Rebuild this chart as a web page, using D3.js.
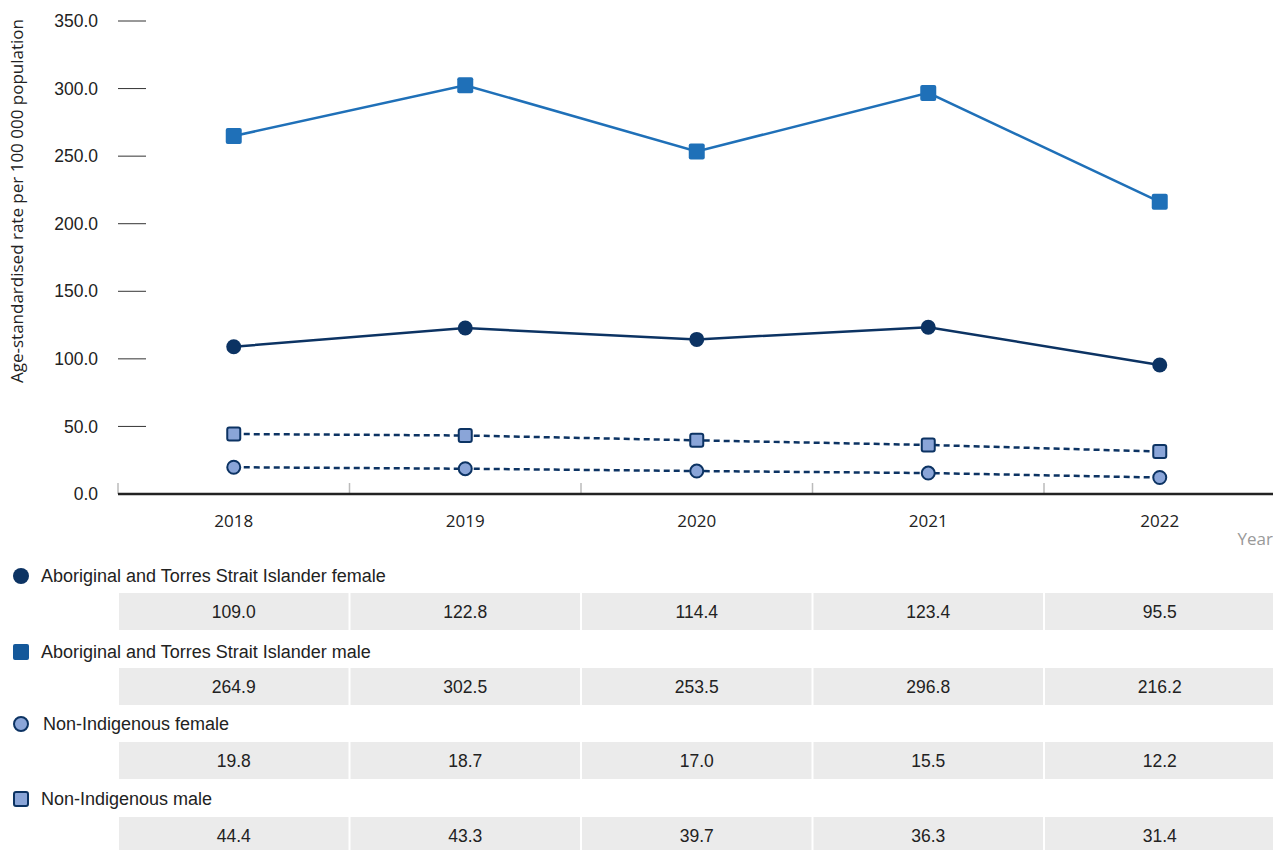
<!DOCTYPE html>
<html>
<head>
<meta charset="utf-8">
<script src="https://cdn.jsdelivr.net/npm/d3@7"></script>
<style>
  body { margin: 0; background: #fff; }
  svg { font-family: "Liberation Sans", Arial, sans-serif; }
</style>
</head>
<body>
<svg width="1273" height="850"></svg>
<script>
const years = ["2018", "2019", "2020", "2021", "2022"];
const seriesNames = [
  "Aboriginal and Torres Strait Islander female",
  "Aboriginal and Torres Strait Islander male",
  "Non-Indigenous female",
  "Non-Indigenous male"
];
const atsiFemale = [109.0, 122.8, 114.4, 123.4, 95.5];
const atsiMale = [264.9, 302.5, 253.5, 296.8, 216.2];
const nonIndFemale = [19.8, 18.7, 17.0, 15.5, 12.2];
const nonIndMale = [44.4, 43.3, 39.7, 36.3, 31.4];
const yTicks = [0, 50, 100, 150, 200, 250, 300, 350];

const svg = d3.select("svg");
const width = +svg.attr("width");

const series = [
  { name: seriesNames[0], values: atsiFemale, shape: "circle", fill: "#0c3363", stroke: "#0c3363", line: "#0c3363", dash: null, legendFill: "#0c3363" },
  { name: seriesNames[1], values: atsiMale, shape: "square", fill: "#1f70b8", stroke: "#1f70b8", line: "#1f70b8", dash: null, legendFill: "#14589a" },
  { name: seriesNames[2], values: nonIndFemale, shape: "circle", fill: "#8aa5d8", stroke: "#0c3363", line: "#0c3363", dash: "6,4", legendFill: "#8aa5d8" },
  { name: seriesNames[3], values: nonIndMale, shape: "square", fill: "#8aa5d8", stroke: "#0c3363", line: "#0c3363", dash: "6,4", legendFill: "#8aa5d8" }
];

const xScale = d3.scaleBand()
  .domain(years)
  .range([118, 1275.5]);

const yScale = d3.scaleLinear()
  .domain([0, 350])
  .range([494, 21]);

// y axis: short tick lines with labels
const yAxisG = svg.append("g");
yAxisG.selectAll("line")
  .data(yTicks.filter(d => d > 0))
  .enter().append("line")
  .attr("x1", 118).attr("x2", 146)
  .attr("y1", d => yScale(d)).attr("y2", d => yScale(d))
  .attr("stroke", "#333").attr("stroke-width", 1);
yAxisG.selectAll("text")
  .data(yTicks)
  .enter().append("text")
  .attr("x", 98)
  .attr("y", d => yScale(d))
  .attr("dy", "0.35em")
  .attr("text-anchor", "end")
  .attr("font-size", 17.5)
  .attr("fill", "#222")
  .text(d => d3.format(".1f")(d));

svg.append("text")
  .attr("transform", `translate(23, ${201}) rotate(-90)`)
  .attr("text-anchor", "middle")
  .attr("font-family", "'Open Sans', sans-serif")
  .attr("font-size", 17)
  .attr("fill", "#222")
  .text("Age-standardised rate per 100 000 population");

// x axis
const xAxis = d3.axisBottom(xScale).tickSize(0).tickPadding(21);
const xAxisG = svg.append("g")
  .attr("transform", "translate(0, 494)")
  .call(xAxis);
xAxisG.select(".domain").remove();
xAxisG.selectAll("text")
  .attr("font-size", 17)
  .attr("font-family", "'Open Sans', sans-serif")
  .attr("fill", "#222");

// band separators
svg.append("g").selectAll("line")
  .data(years)
  .enter().append("line")
  .attr("x1", d => xScale(d)).attr("x2", d => xScale(d))
  .attr("y1", 483).attr("y2", 494)
  .attr("stroke", "#bbb").attr("stroke-width", 1.5);

svg.append("line")
  .attr("x1", 118).attr("x2", width)
  .attr("y1", 494).attr("y2", 494)
  .attr("stroke", "#222").attr("stroke-width", 2.5);

svg.append("text")
  .attr("x", 1273).attr("y", 545)
  .attr("text-anchor", "end")
  .attr("font-family", "'Open Sans', sans-serif")
  .attr("font-size", 17)
  .attr("fill", "#999")
  .text("Year");

const cx = d => xScale(d) + xScale.bandwidth() / 2;

const line = d3.line()
  .x((d, i) => cx(years[i]))
  .y(d => yScale(d));

// draw lines then markers
const drawOrder = [2, 3, 0, 1];
drawOrder.forEach(idx => {
  const s = series[idx];
  svg.append("path")
    .datum(s.values)
    .attr("d", line)
    .attr("fill", "none")
    .attr("stroke", s.line)
    .attr("stroke-width", 2.5)
    .attr("stroke-dasharray", s.dash);

  const g = svg.append("g");
  const pts = s.values.map((v, i) => ({ x: cx(years[i]), y: yScale(v) }));
  if (s.shape === "circle") {
    g.selectAll("circle").data(pts).enter().append("circle")
      .attr("cx", d => d.x).attr("cy", d => d.y)
      .attr("r", s.dash ? 6.5 : 7.5)
      .attr("fill", s.fill)
      .attr("stroke", s.stroke)
      .attr("stroke-width", s.dash ? 2 : 0);
  } else {
    const sz = s.dash ? 13 : 16;
    g.selectAll("rect").data(pts).enter().append("rect")
      .attr("x", d => d.x - sz / 2).attr("y", d => d.y - sz / 2)
      .attr("width", sz).attr("height", sz)
      .attr("rx", 2)
      .attr("fill", s.fill)
      .attr("stroke", s.stroke)
      .attr("stroke-width", s.dash ? 2 : 0);
  }
});

// legend + data table
const legendY = [576, 652, 724, 799];
const rowTop = [593, 668, 742, 817];
const rowH = 37;

series.forEach((s, i) => {
  const lg = svg.append("g");
  if (s.shape === "circle") {
    lg.append("circle")
      .attr("cx", 21).attr("cy", legendY[i])
      .attr("r", s.dash ? 7 : 8)
      .attr("fill", s.legendFill)
      .attr("stroke", "#0c3363")
      .attr("stroke-width", s.dash ? 2 : 0);
  } else {
    const sz = s.dash ? 14 : 16;
    lg.append("rect")
      .attr("x", 21 - sz / 2).attr("y", legendY[i] - sz / 2)
      .attr("width", sz).attr("height", sz)
      .attr("rx", 2)
      .attr("fill", s.legendFill)
      .attr("stroke", "#0c3363")
      .attr("stroke-width", s.dash ? 2 : 0);
  }
  lg.append("text")
    .attr("x", s.dash && s.shape === "circle" ? 43 : 41)
    .attr("y", legendY[i])
    .attr("dy", "0.35em")
    .attr("font-size", 18)
    .attr("fill", "#222")
    .text(s.name);

  const cells = svg.append("g");
  cells.selectAll("rect")
    .data(years)
    .enter().append("rect")
    .attr("x", d => xScale(d) + 1)
    .attr("y", rowTop[i])
    .attr("width", (d, j) => j === years.length - 1 ? width - xScale(d) - 1 : xScale.bandwidth() - 2)
    .attr("height", rowH)
    .attr("fill", "#ebebeb");
  cells.selectAll("text")
    .data(s.values)
    .enter().append("text")
    .attr("x", (d, j) => cx(years[j]))
    .attr("y", rowTop[i] + rowH / 2)
    .attr("dy", "0.35em")
    .attr("text-anchor", "middle")
    .attr("font-size", 17.5)
    .attr("fill", "#222")
    .text(d => d3.format(".1f")(d));
});
</script>
</body>
</html>
